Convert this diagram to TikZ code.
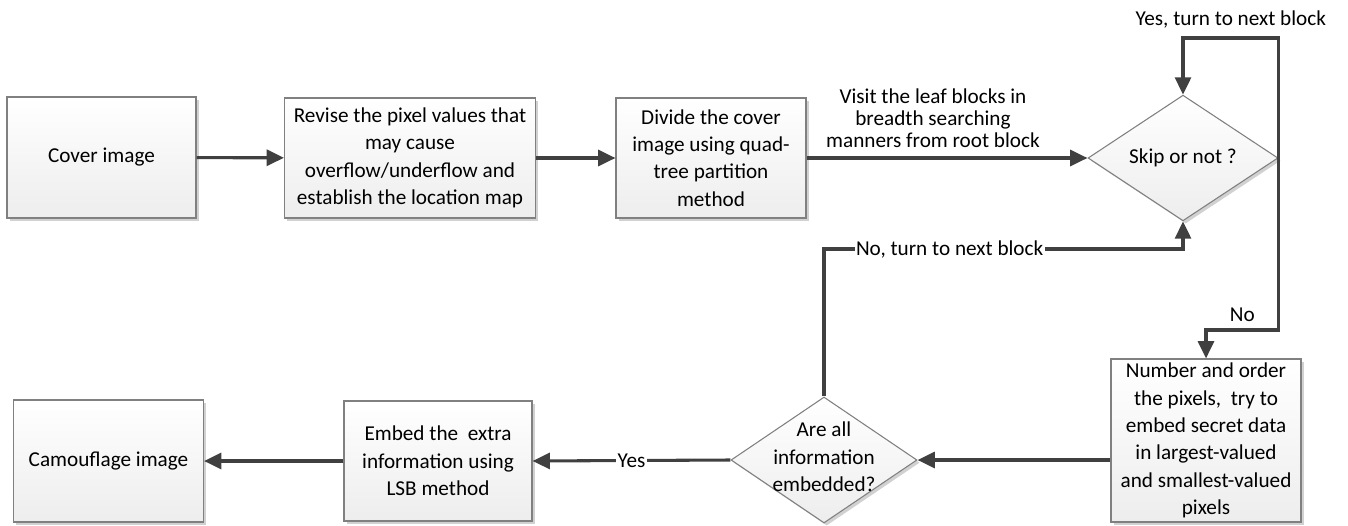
\documentclass[tikz,border=0pt]{standalone}
\usepackage{fontspec}
\setmainfont{Carlito}
\usetikzlibrary{arrows.meta,shapes.geometric,shadows}
\definecolor{linkgray}{HTML}{404040}
\definecolor{edgegray}{HTML}{808080}
\newcommand\pxu{0.75pt}

\begin{document}
\begin{tikzpicture}[x=0.75pt,y=-0.75pt,
  font=\fontsize{15.9}{20.5}\selectfont,
  shapebase/.style={draw=edgegray, line width=0.8pt,
    top color=white, bottom color=black!7,
    drop shadow={shadow xshift=2pt, shadow yshift=-2pt, fill=black!18, opacity=1},
    inner sep=0pt, align=center},
  procbox/.style={shapebase, rectangle},
  decision/.style={shapebase, diamond},
  flow/.style={draw=linkgray, line width=2.3pt, -{Triangle[length=13pt,width=12pt]}},
  onlinelabel/.style={fill=white, inner sep=1pt, text=black},
]
\useasboundingbox (0,0) rectangle (1348,525);

% process steps and decisions
\node[procbox, minimum width=189*\pxu, minimum height=121*\pxu] (cover) at (101.5,157.5) {Cover image};
\node[procbox, minimum width=251*\pxu, minimum height=120*\pxu] (revise) at (410,158)
  {Revise the pixel values that\\may cause\\overflow/underflow and\\establish the location map};
\node[procbox, minimum width=190*\pxu, minimum height=120*\pxu] (divide) at (711,158)
  {Divide the cover\\image using quad-\\tree partition\\method};
\node[decision, minimum width=190*\pxu, minimum height=121*\pxu] (skip) at (1183,158) {Skip or not ?};
\node[procbox, minimum width=190*\pxu, minimum height=163*\pxu] (order) at (1206,440.5)
  {Number and order\\the pixels,\ \ try to\\embed secret data\\in largest-valued\\and smallest-valued\\pixels};
\node[decision, minimum width=186*\pxu, minimum height=126*\pxu] (allin) at (824,460)
  {\raisebox{-0.42em}{\smash{\makebox[0pt]{\begin{tabular}{@{}c@{}}Are all\\information\\embedded?\end{tabular}}}}};
\node[procbox, minimum width=188*\pxu, minimum height=120*\pxu] (lsb) at (438,461)
  {Embed the\ \ extra\\information using\\LSB method};
\node[procbox, minimum width=190*\pxu, minimum height=122*\pxu] (camo) at (108.5,461) {Camouflage image};

% helper levels for the loop connectors
\coordinate (yeslevel) at (0,38);
\coordinate (nolevel) at (0,330);
\coordinate (backlevel) at (0,249);

% connectors
\draw[flow] (cover) -- (revise);
\draw[flow] (revise) -- (divide);
\draw[flow] (divide) -- node[pos=0.45, above=3pt, align=center, font=\fontsize{15.9}{16.8}\selectfont]
  {Visit the leaf blocks in\\breadth searching\\manners from root block} (skip);
\draw[flow] (skip.east) -- (skip.east |- yeslevel)
  -- node[above=3pt] {Yes, turn to next block} (skip.north |- yeslevel) -- (skip.north);
\draw[flow] (skip.east) -- (skip.east |- nolevel)
  -- node[above=2pt] {No} (order.north |- nolevel) -- (order.north);
\draw[flow] (order.west |- allin.east) -- (allin.east);
\draw[flow] (allin.north) -- (allin.north |- backlevel)
  -- node[onlinelabel, pos=0.35] {No, turn to next block} (skip.south |- backlevel) -- (skip.south);
\draw[flow] (allin.west) -- node[onlinelabel] {Yes} (lsb.east);
\draw[flow] (lsb.west) -- (camo.east);
\end{tikzpicture}
\end{document}
